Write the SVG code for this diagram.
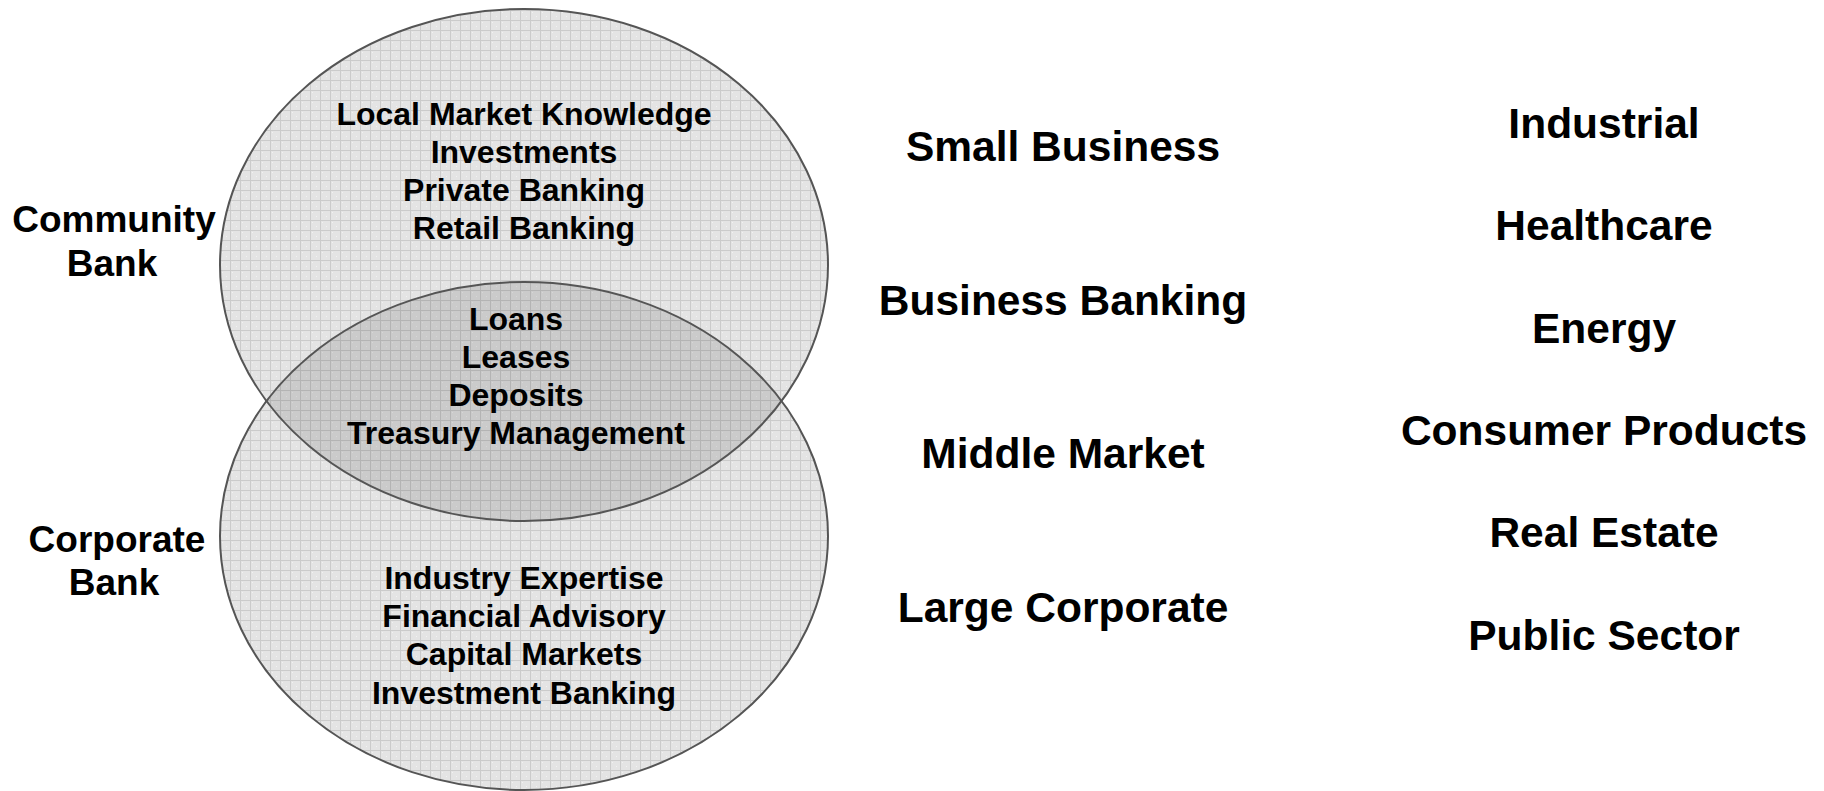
<svg xmlns="http://www.w3.org/2000/svg" width="1824" height="791" viewBox="0 0 1824 791">
<style>
text{font-family:"Liberation Sans",Arial,sans-serif;font-weight:bold;fill:#000;text-anchor:middle}
.in{font-size:32px}
.side{font-size:37px}
.col{font-size:42.5px}
.outline{fill:none;stroke:#555;stroke-width:2}
</style>
<defs>
<pattern id="grid" width="10" height="10" patternUnits="userSpaceOnUse">
<rect width="10" height="10" fill="#e4e4e4"/>
<rect x="2" y="2" width="1" height="1" fill="#f2f2f2"/>
<rect x="6" y="6" width="1" height="1" fill="#f2f2f2"/>
<path d="M0 0.5H10M0.5 0V10" stroke="#cbcbcb" stroke-width="1"/>
</pattern>
<clipPath id="clipBottom"><ellipse cx="524" cy="536" rx="304" ry="254"/></clipPath>
</defs>
<g id="community-circle">
<ellipse cx="524" cy="265" rx="304" ry="256" fill="url(#grid)"/>
</g>
<g id="corporate-circle">
<ellipse cx="524" cy="536" rx="304" ry="254" fill="url(#grid)"/>
</g>
<g id="overlap">
<ellipse cx="524" cy="265" rx="304" ry="256" fill="#000" fill-opacity="0.11" clip-path="url(#clipBottom)"/>
</g>
<g id="outlines">
<ellipse class="outline" cx="524" cy="265" rx="304" ry="256"/>
<ellipse class="outline" cx="524" cy="536" rx="304" ry="254"/>
</g>
<g id="community-services">
<text class="in" x="524" y="125">Local Market Knowledge</text>
<text class="in" x="524" y="163">Investments</text>
<text class="in" x="524" y="201">Private Banking</text>
<text class="in" x="524" y="239">Retail Banking</text>
</g>
<g id="shared-services">
<text class="in" x="516" y="330">Loans</text>
<text class="in" x="516" y="368">Leases</text>
<text class="in" x="516" y="406">Deposits</text>
<text class="in" x="516" y="444">Treasury Management</text>
</g>
<g id="corporate-services">
<text class="in" x="524" y="589">Industry Expertise</text>
<text class="in" x="524" y="627">Financial Advisory</text>
<text class="in" x="524" y="665">Capital Markets</text>
<text class="in" x="524" y="704">Investment Banking</text>
</g>
<g id="community-label">
<text class="side" x="114" y="232">Community</text>
<text class="side" x="112" y="276">Bank</text>
</g>
<g id="corporate-label">
<text class="side" x="117" y="552">Corporate</text>
<text class="side" x="114" y="595">Bank</text>
</g>
<g id="segments">
<text class="col" x="1063" y="161">Small Business</text>
<text class="col" x="1063" y="315">Business Banking</text>
<text class="col" x="1063" y="468">Middle Market</text>
<text class="col" x="1063" y="622">Large Corporate</text>
</g>
<g id="industries">
<text class="col" x="1604" y="138">Industrial</text>
<text class="col" x="1604" y="240">Healthcare</text>
<text class="col" x="1604" y="343">Energy</text>
<text class="col" x="1604" y="445">Consumer Products</text>
<text class="col" x="1604" y="547">Real Estate</text>
<text class="col" x="1604" y="650">Public Sector</text>
</g>
<g id="connectors"></g>
</svg>
